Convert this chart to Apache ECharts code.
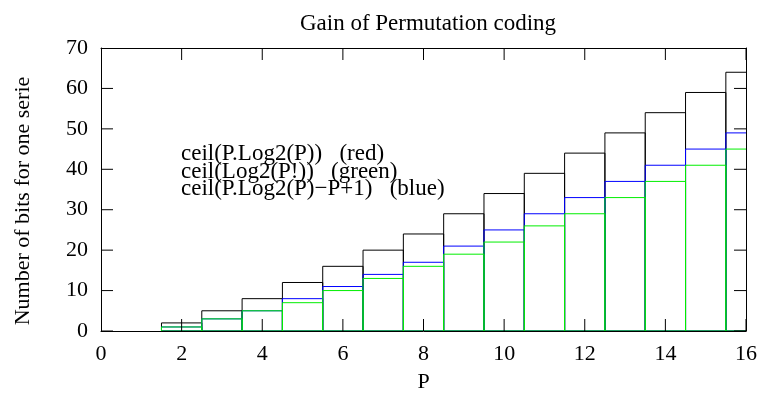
<!DOCTYPE html>
<html><head><meta charset="utf-8">
<script src="https://cdn.jsdelivr.net/npm/echarts@6/dist/echarts.min.js"></script>
<style>html,body{margin:0;padding:0;background:#fff}#c{width:763px;height:394px}</style>
</head><body><div id="c"></div>
<script>
const P = [1,2,3,4,5,6,7,8,9,10,11,12,13,14,15,16];
const bitsPLog2P = [0,2,5,8,12,16,20,24,29,34,39,44,49,54,59,64];
const bitsMinusP = [0,1,3,5,8,11,14,17,21,25,29,33,37,41,45,49];
const bitsLog2Fact = [0,1,3,5,7,10,13,16,19,22,26,29,33,37,41,45];
const xTicks = [0,2,4,6,8,10,12,14,16];
const yTicks = [0,10,20,30,40,50,60,70];
const legendLines = ['ceil(P.Log2(P))   (red)','ceil(Log2(P!))   (green)','ceil(P.Log2(P)\u2212P+1)   (blue)'];

const X_MIN = 0, X_MAX = 16, Y_MIN = 0, Y_MAX = 70;
const TICK = 12;
const FONT = '"Liberation Serif","DejaVu Serif",serif';
const chart = echarts.init(document.getElementById('c'), null, {renderer:'canvas'});

function boxSeries(vals, color, z){
  return {
    type:'custom', clip:true, z:z, silent:true,
    data: P.map((p,i)=>[p, vals[i]]),
    renderItem: function(params, api){
      const x = api.value(0), v = api.value(1);
      if (!v) return null;
      const a = api.coord([x-0.5, 0]);
      const b = api.coord([x+0.5, v]);
      return {
        type:'rect',
        shape:{x:a[0], y:b[1], width:b[0]-a[0], height:a[1]-b[1]},
        style:{fill:'none', stroke:color, lineWidth:1}
      };
    }
  };
}

// x ticks: one item per tick and edge (bottom / top)
const xTickData = [];
xTicks.forEach(v => { xTickData.push([v, Y_MIN]); xTickData.push([v, Y_MAX]); });
const yTickData = [];
yTicks.forEach(v => { yTickData.push([X_MIN, v]); yTickData.push([X_MAX, v]); });

const xTickSeries = {
  type:'custom', clip:true, z:10, silent:true,
  data: xTickData,
  renderItem: function(params, api){
    const xv = api.value(0), yv = api.value(1);
    const p = api.coord([xv, yv]);
    const y0 = (yv === Y_MIN) ? p[1] - TICK : p[1];
    return {type:'rect', shape:{x:p[0]-0.5, y:y0, width:1, height:TICK},
      style:{fill:'#000', stroke:'none'}};
  }
};
const yTickSeries = {
  type:'custom', clip:true, z:10, silent:true,
  data: yTickData,
  renderItem: function(params, api){
    const xv = api.value(0), yv = api.value(1);
    const p = api.coord([xv, yv]);
    const x0 = (xv === X_MIN) ? p[0] : p[0] - TICK;
    return {type:'rect', shape:{x:x0, y:p[1]-0.5, width:TICK, height:1},
      style:{fill:'#000', stroke:'none'}};
  }
};

function axisCommon(){
  return {
    axisLine:{show:true, onZero:false, lineStyle:{color:'#000', width:1}},
    axisTick:{show:false},
    splitLine:{show:false}
  };
}

chart.setOption({
  animation:false,
  backgroundColor:'#fff',
  title:{text:'Gain of Permutation coding', left:423, top:7, textAlign:'center',
    textStyle:{fontFamily:FONT, fontSize:23, fontWeight:'normal', color:'#000'}},
  grid:{left:101, right:17, top:48, bottom:63, outerBoundsMode:'none', containLabel:false},
  xAxis:[
    Object.assign({type:'value', min:X_MIN, max:X_MAX, interval:2, position:'bottom',
      name:'P', nameLocation:'middle', nameGap:40,
      nameTextStyle:{fontFamily:FONT, fontSize:22, color:'#000'},
      axisLabel:{fontFamily:FONT, fontSize:22, color:'#000', margin:12}}, axisCommon()),
    Object.assign({type:'value', min:X_MIN, max:X_MAX, interval:2, position:'top',
      axisLabel:{show:false}}, axisCommon())
  ],
  yAxis:[
    Object.assign({type:'value', min:Y_MIN, max:Y_MAX, interval:10, position:'left',
      axisLabel:{fontFamily:FONT, fontSize:22, color:'#000', margin:13}}, axisCommon()),
    Object.assign({type:'value', min:Y_MIN, max:Y_MAX, interval:10, position:'right',
      axisLabel:{show:false}}, axisCommon())
  ],
  graphic: legendLines.map((t,i)=>({
    type:'text', x:181, y:154 + i*17.5, z:100,
    style:{text:t, font:'23px '+FONT, fill:'#000', verticalAlign:'middle'}
  })).concat([{
    type:'text', x:23, y:201, rotation:Math.PI/2, z:100,
    style:{text:'Number of bits for one serie', font:'22px '+FONT, fill:'#000', align:'center', verticalAlign:'middle'}
  }]),
  series:[
    boxSeries(bitsPLog2P, '#000000', 2),
    boxSeries(bitsMinusP, '#0000ff', 3),
    boxSeries(bitsLog2Fact, '#00ee00', 4),
    xTickSeries,
    yTickSeries
  ]
});
</script></body></html>
